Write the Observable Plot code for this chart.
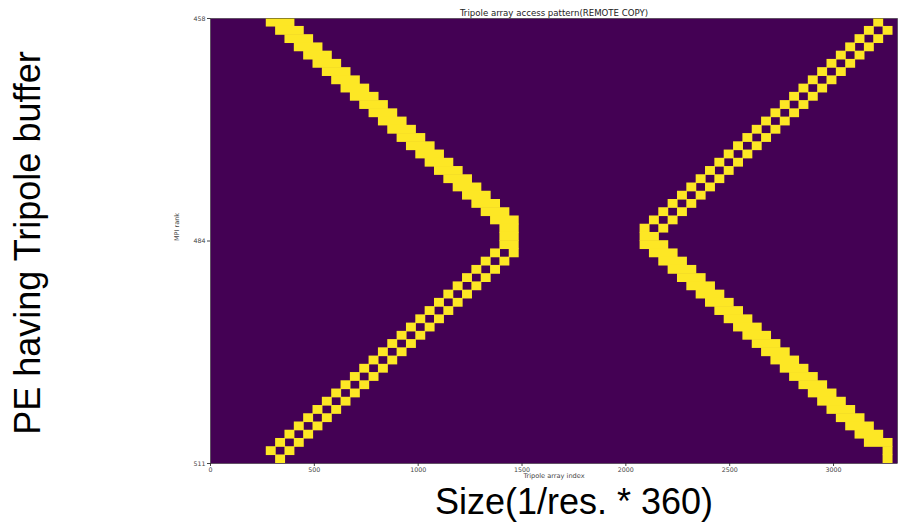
<!DOCTYPE html>
<html><head><meta charset="utf-8">
<script src="https://cdn.jsdelivr.net/npm/d3@7"></script>
<script src="https://cdn.jsdelivr.net/npm/@observablehq/plot@0.6"></script>
<style>
body{margin:0;background:#fff;overflow:hidden;}
#wrap{position:relative;width:901px;height:522px;overflow:hidden;}
#wrap svg{position:absolute;left:0;top:0;}
.big{position:absolute;font-family:"Liberation Sans",Arial,sans-serif;font-size:36px;line-height:36px;white-space:nowrap;color:#000;}
</style></head><body>
<div id="wrap"></div>
<script>
const title = "Tripole array access pattern(REMOTE COPY)";
const xLabel = "Tripole array index";
const yLabel = "MPI rank";
const slideXLabel = "Size(1/res. * 360)";
const slideYLabel = "PE having Tripole buffer";
const yTickRows = [0, 27, 54];
const yTickLabels = ["458", "484", "511"];
const xTicks = [0, 500, 1000, 1500, 2000, 2500, 3000];
const xMax = 3308;
const rowCount = 54;
const cellWidth = 45;
// yellow cell column indices per rank row (rank 458 .. 511)
const leftArm = [
 [6,7,8],[7,8,9],[8,9,10],[9,10,11],[10,11,12],[11,12,13],[12,13,14],[13,14,15],
 [14,15,16],[15,16,17],[16,17,18],[17,18,19],[18,19,20],[19,20,21],[20,21,22],[21,22,23],
 [22,23,24],[23,24,25],[24,25,26],[25,26,27],[26,27,28],[27,28,29],[28,29,30],[29,30,31],
 [30,31,32],[31,32],[31,32],[31,32],[30,32],[29,31],[28,30],[27,29],
 [26,28],[25,27],[24,26],[23,25],[22,24],[21,23],[20,22],[19,21],
 [18,20],[17,19],[16,18],[15,17],[14,16],[13,15],[12,14],[11,13],
 [10,12],[9,11],[8,10],[7,9],[6,8],[7]
];
const rightArm = [
 [71],[70,72],[69,71],[68,70],[67,69],[66,68],[65,67],[64,66],
 [63,65],[62,64],[61,63],[60,62],[59,61],[58,60],[57,59],[56,58],
 [55,57],[54,56],[53,55],[52,54],[51,53],[50,52],[49,51],[48,50],
 [47,49],[46,48],[46,47],[46,47,48],[47,48,49],[48,49,50],[49,50,51],[50,51,52],
 [51,52,53],[52,53,54],[53,54,55],[54,55,56],[55,56,57],[56,57,58],[57,58,59],[58,59,60],
 [59,60,61],[60,61,62],[61,62,63],[62,63,64],[63,64,65],[64,65,66],[65,66,67],[66,67,68],
 [67,68,69],[68,69,70],[69,70,71],[70,71,72],[72],[72]
];
const bgColor = "#440154";
const hitColor = "#fde725";

// merge consecutive columns of a row into one run
const cells = [];
for (let r = 0; r < rowCount; r++) {
  const cols = leftArm[r].concat(rightArm[r]).slice().sort((a, b) => a - b);
  let start = cols[0], prev = cols[0];
  for (let k = 1; k <= cols.length; k++) {
    const c = cols[k];
    if (c === prev + 1) { prev = c; continue; }
    cells.push({x1: start * cellWidth, x2: (prev + 1) * cellWidth, y1: r, y2: r + 1});
    start = c; prev = c;
  }
}

const chart = Plot.plot({
  width: 901, height: 522,
  marginLeft: 210, marginRight: 4, marginTop: 18, marginBottom: 59,
  style: {fontFamily: "'DejaVu Sans', sans-serif", fontSize: "6.3px", background: "transparent", color: "#444"},
  x: {domain: [0, xMax], ticks: xTicks, tickSize: 3, tickPadding: 1, tickFormat: d => String(d), label: null},
  y: {domain: [0, rowCount], reverse: true, ticks: yTickRows, tickSize: 3, tickPadding: 2,
      tickFormat: d => yTickLabels[yTickRows.indexOf(d)], label: null},
  marks: [
    Plot.frame({fill: bgColor}),
    Plot.rect(cells, {x1: "x1", x2: "x2", y1: "y1", y2: "y2", fill: hitColor, inset: -0.3, clip: true}),
    Plot.frame({stroke: "#222", strokeWidth: 0.5}),
    Plot.text([title], {frameAnchor: "top", dy: -9, fontSize: 8.6, fill: "#222"}),
    Plot.text([xLabel], {frameAnchor: "bottom", dy: 14, fontSize: 6.6, fill: "#444"}),
    Plot.text([yLabel], {frameAnchor: "left", dx: -34, rotate: -90, fontSize: 6.5, fill: "#444"})
  ]
});
const wrap = document.getElementById("wrap");
wrap.appendChild(chart);

const yl = document.createElement("div");
yl.className = "big";
yl.textContent = slideYLabel;
yl.style.left = "27.5px";
yl.style.top = "243px";
yl.style.transform = "translate(-50%,-50%) rotate(-90deg)";
wrap.appendChild(yl);

const xl = document.createElement("div");
xl.className = "big";
xl.textContent = slideXLabel;
xl.style.lineHeight = "28px";
xl.style.left = "574px";
xl.style.top = "488px";
xl.style.transform = "translateX(-50%)";
wrap.appendChild(xl);
</script>
</body></html>
